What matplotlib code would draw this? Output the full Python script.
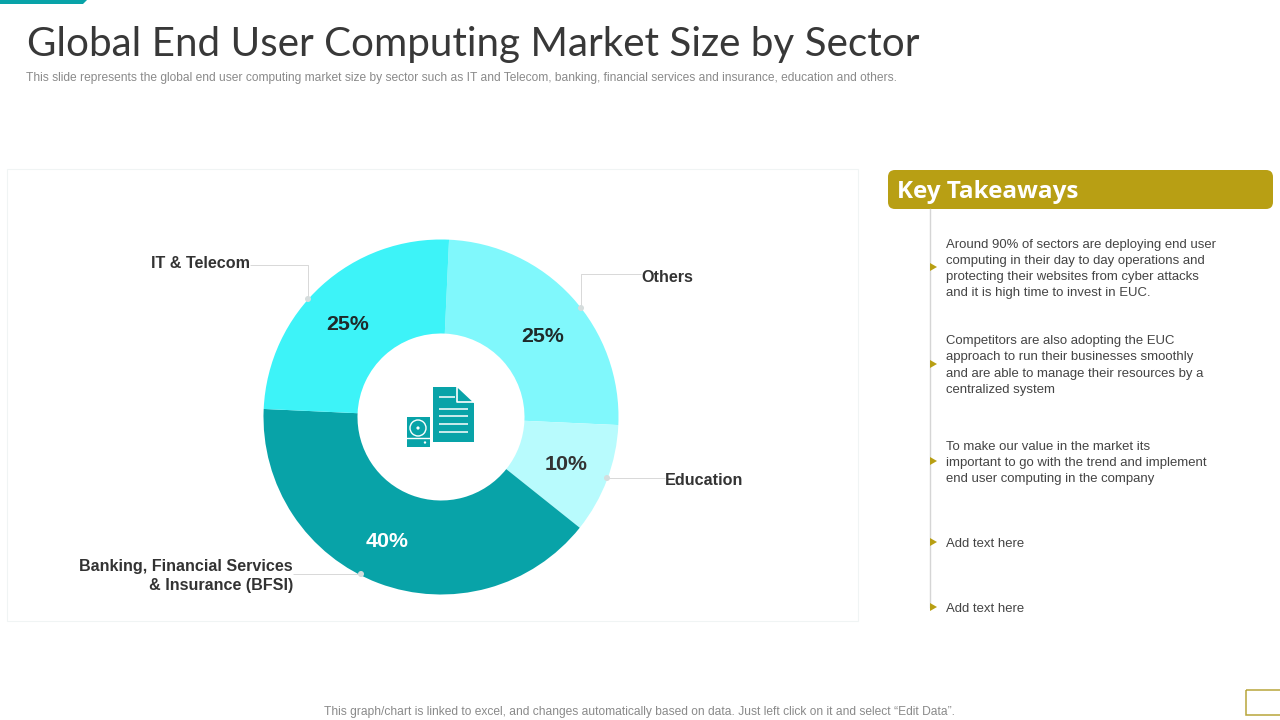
import matplotlib
matplotlib.use("Agg")
import matplotlib.pyplot as plt
from matplotlib.patches import Rectangle, FancyBboxPatch, Polygon, Circle

title = "Global End User Computing Market Size by Sector"
subtitle = ("This slide represents the global end user computing market size by sector such as IT and Telecom, "
            "banking, financial services and insurance, education and others.")
footer = "This graph/chart is linked to excel, and changes automatically based on data. Just left click on it and select \u201cEdit Data\u201d."
panel_title = "Key Takeaways"

sectors = ["Others", "Education", "BFSI", "IT & Telecom"]
shares = [25, 10, 40, 25]
share_labels = ["25%", "10%", "40%", "25%"]
colors = ["#80F8FC", "#B8FBFD", "#08A3A8", "#3DF3F8"]

takeaways = [
    "Around 90% of sectors are deploying end user\ncomputing in their day to day operations and\nprotecting their websites from cyber attacks\nand it is high time to invest in EUC.",
    "Competitors are also adopting the EUC\napproach to run their businesses smoothly\nand are able to manage their resources by a\ncentralized system",
    "To make our value in the market its\nimportant to go with the trend and implement\nend user computing in the company",
    "Add text here",
    "Add text here",
]
takeaway_y = [267, 364, 461, 542, 607]

TEAL = "#08A3A8"
GOLD = "#B89F14"
SANS = ["Liberation Sans", "DejaVu Sans"]

fig = plt.figure(figsize=(12.8, 7.2), dpi=100, facecolor="white")
bg = fig.add_axes([0, 0, 1, 1])
bg.set_xlim(0, 1280)
bg.set_ylim(720, 0)
bg.axis("off")

# header decoration
bg.add_patch(Polygon([(0, 0), (87, 0), (83, 4), (0, 4)], color=TEAL, lw=0))
bg.text(27, 56, title, fontsize=29.1, family=["Lato", "DejaVu Sans"], weight="normal",
        color="#383838", va="baseline", ha="left")
bg.text(26, 78, subtitle, fontsize=8.68, family=SANS, color="#8a8a8a", va="center", ha="left")
bg.text(639, 712, footer, fontsize=8.62, family=SANS, color="#8a8a8a", va="center", ha="center")

# chart frame
bg.add_patch(Rectangle((7, 169), 851, 452, fc="white", ec="#F0F4F4", lw=0.8))

# corner box
bg.add_patch(Rectangle((1246, 690), 40, 25, fc="none", ec="#B8A53A", lw=1.1))

# donut
cx, cy, R, r = 441, 417, 177.5, 83.5
pie_ax = fig.add_axes([(cx - 200) / 1280, 1 - (cy + 200) / 720, 400 / 1280, 400 / 720])
pie_ax.set_aspect("equal")
pie_ax.patch.set_alpha(0)
pie_ax.pie(shares, colors=colors, startangle=87.4, counterclock=False, radius=R,
           center=(0, 0), frame=True, wedgeprops=dict(width=R - r, linewidth=0))
pie_ax.set_xlim(-200, 200)
pie_ax.set_ylim(-200, 200)
pie_ax.axis("off")

# value labels
top = fig.add_axes([0, 0, 1, 1])
top.set_xlim(0, 1280)
top.set_ylim(720, 0)
top.axis("off")
top.patch.set_alpha(0)
value_pos = [(543, 336), (566, 464), (387, 541.5), (348, 325)]
value_cols = ["#1f2a2a", "#333333", "white", "#1f2a2a"]
for s, (x, y), c in zip(share_labels, value_pos, value_cols):
    top.text(x, y, s, fontsize=15.4, family=SANS, weight="bold", color=c, ha="center", va="center")

# leader lines and category labels
LEAD = "#D8D8D8"
leaders = [
    ([(250, 265), (308, 265), (308, 299)], (250, 264), "IT & Telecom", "right"),
    ([(641, 274), (581, 274), (581, 308)], (641, 277), "Others", "left"),
    ([(665, 478), (607, 478)], (665, 480.5), "Education", "left"),
    ([(293, 574), (361, 574)], (293, 576), "Banking, Financial Services\n& Insurance (BFSI)", "right"),
]
for pts, (tx, ty), label, ha in leaders:
    top.plot([p[0] for p in pts], [p[1] for p in pts], color=LEAD, lw=0.7, solid_capstyle="butt")
    ex, ey = pts[-1]
    top.add_patch(Circle((ex, ey), 3, fc="#D5DDDD", ec="none", zorder=3))
    top.text(tx, ty, label, fontsize=11.65, family=SANS, weight="bold", color="#333333",
             ha=ha, va="center", linespacing=1.3, multialignment="right" if ha == "right" else "left")

# centre icon: document
top.add_patch(Polygon([(433, 387), (458, 387), (474, 403), (474, 442), (433, 442)], fc=TEAL, ec="none"))
top.add_patch(Polygon([(457, 386), (457, 402), (474, 402)], fc=TEAL, ec="white", lw=1.2, joinstyle="round"))
for x0, x1, y in [(439, 455, 397), (439, 468, 409), (439, 468, 416), (439, 468, 424), (439, 468, 432)]:
    top.plot([x0, x1], [y, y], color="white", lw=1.1, solid_capstyle="butt")
# centre icon: disk
top.add_patch(Rectangle((407, 417), 23, 30, fc=TEAL, ec="none"))
top.plot([407, 430], [438, 438], color="white", lw=1)
top.add_patch(Circle((418, 428), 8, fc="none", ec="white", lw=1))
top.add_patch(Circle((418, 428), 1.6, fc="white", ec="none"))
top.add_patch(Circle((425, 442.5), 1.2, fc="white", ec="none"))

# takeaways panel
top.add_patch(FancyBboxPatch((888, 170), 385, 39, boxstyle="round,pad=0,rounding_size=7",
                             fc=GOLD, ec="none"))
top.text(897, 198, panel_title, fontsize=17.5, family=["Open Sans", "DejaVu Sans"], weight="bold",
         color="white", ha="left", va="baseline")
top.plot([930, 930], [209, 607], color="#D5D5D5", lw=1)
for y in takeaway_y:
    top.add_patch(Polygon([(930, y - 4), (937, y), (930, y + 4)], fc=GOLD, ec="none", zorder=3))

text_centres = [269, 365.5, 463, 544, 609]
for text, y in zip(takeaways, text_centres):
    top.text(946, y, text, fontsize=9.42, family=SANS, color="#444444", ha="left", va="center", linespacing=1.46)

fig.savefig("out.png", dpi=100)
